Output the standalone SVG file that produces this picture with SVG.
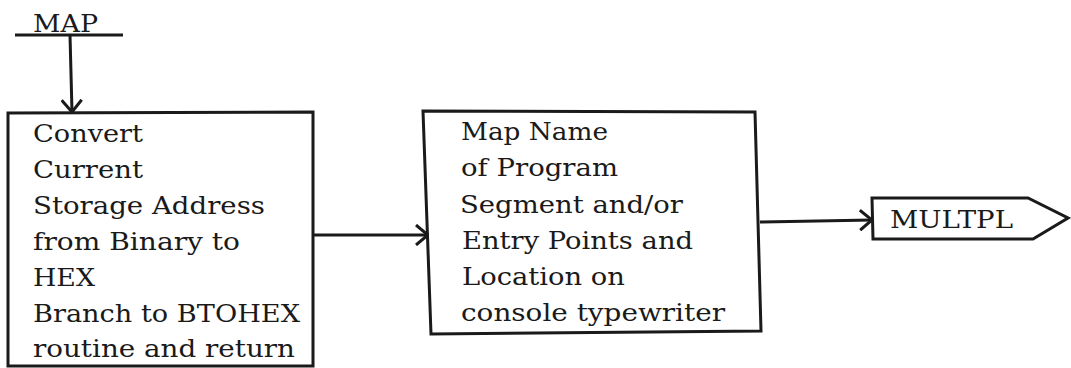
<svg xmlns="http://www.w3.org/2000/svg" width="1071" height="368" viewBox="0 0 1071 368">
<style>
.t{font-family:"DejaVu Serif","Liberation Serif",serif;font-size:24.5px;fill:#1a1a1a}
.b{fill:none;stroke:#1a1a1a;stroke-width:3}
.c{fill:none;stroke:#1a1a1a;stroke-width:3}
</style>
<defs>
<marker id="ah" markerUnits="userSpaceOnUse" viewBox="0 0 14 22" refX="13" refY="11" markerWidth="14" markerHeight="22" orient="auto">
<path d="M1,1 L13,11 L1,21" fill="none" stroke="#1a1a1a" stroke-width="3"/>
</marker>
</defs>
<rect width="1071" height="368" fill="#fff"/>
<g id="map">
<text class="t" x="33" y="32" textLength="65" lengthAdjust="spacingAndGlyphs">MAP</text>
<line class="c" x1="15" y1="35" x2="123" y2="35"/>
</g>
<g id="convert">
<polygon class="b" points="8,113 313,112 313,366 8,366"/>
<text class="t" x="33" y="142" textLength="110" lengthAdjust="spacingAndGlyphs">Convert</text>
<text class="t" x="33" y="178" textLength="110" lengthAdjust="spacingAndGlyphs">Current</text>
<text class="t" x="33" y="214" textLength="232" lengthAdjust="spacingAndGlyphs">Storage Address</text>
<text class="t" x="33" y="250" textLength="207" lengthAdjust="spacingAndGlyphs">from Binary to</text>
<text class="t" x="33" y="286" textLength="62" lengthAdjust="spacingAndGlyphs">HEX</text>
<text class="t" x="33" y="322" textLength="267" lengthAdjust="spacingAndGlyphs">Branch to BTOHEX</text>
<text class="t" x="33" y="357" textLength="262" lengthAdjust="spacingAndGlyphs">routine and return</text>
</g>
<g id="mapname">
<polygon class="b" points="423,111 755,112 761,331 431,334"/>
<text class="t" x="461" y="140" textLength="147" lengthAdjust="spacingAndGlyphs">Map Name</text>
<text class="t" x="461" y="176" textLength="157" lengthAdjust="spacingAndGlyphs">of Program</text>
<text class="t" x="460" y="213" textLength="223" lengthAdjust="spacingAndGlyphs">Segment and/or</text>
<text class="t" x="462" y="249" textLength="231" lengthAdjust="spacingAndGlyphs">Entry Points and</text>
<text class="t" x="462" y="285" textLength="163" lengthAdjust="spacingAndGlyphs">Location on</text>
<text class="t" x="461" y="321" textLength="264" lengthAdjust="spacingAndGlyphs">console typewriter</text>
</g>
<g id="multpl">
<polygon class="b" points="872,198 1028,198 1068,218 1033,239 873,239"/>
<text class="t" x="890" y="228" textLength="123" lengthAdjust="spacingAndGlyphs">MULTPL</text>
</g>
<g id="connectors">
<line class="c" x1="70" y1="35" x2="72" y2="112" marker-end="url(#ah)"/>
<line class="c" x1="313" y1="235" x2="428" y2="235" marker-end="url(#ah)"/>
<line class="c" x1="760" y1="222" x2="872" y2="220" marker-end="url(#ah)"/>
</g>
</svg>
